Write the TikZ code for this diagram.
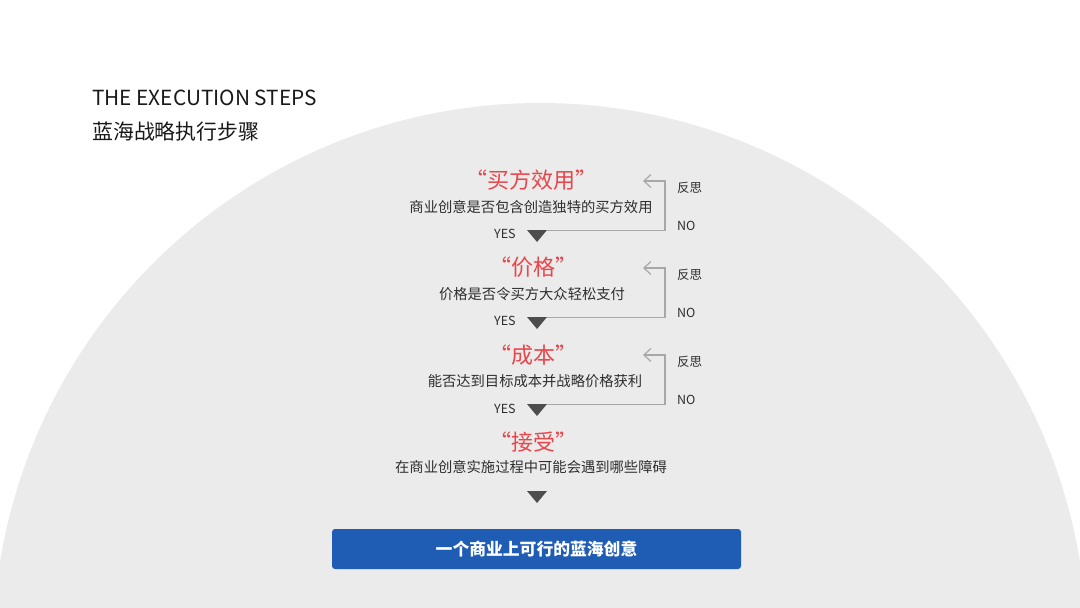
\documentclass[tikz,border=0pt]{standalone}
\usepackage{fontspec}
\setmainfont{Noto Sans CJK SC}
\usetikzlibrary{arrows.meta}
\definecolor{bgray}{HTML}{EBEBEB}
\definecolor{tred}{HTML}{E8464B}
\definecolor{tdark}{HTML}{2E2E2E}
\definecolor{tgray}{HTML}{4D4D4D}
\definecolor{lgray}{HTML}{A8A8A8}
\definecolor{bblue}{HTML}{1F5CB4}

\begin{document}
\begin{tikzpicture}
  [x=1pt,y=-1pt,every node/.style={inner sep=0pt, text=tdark},
   title/.style={anchor=base west, font=\fontsize{20.8}{24}\selectfont, text=black!90},
   head/.style={anchor=base, font=\fontsize{22}{26}\selectfont, text=tred},
   ask/.style={anchor=base, font=\fontsize{14.3}{17}\selectfont},
   tag/.style={anchor=base west, font=\fontsize{12.5}{15}\selectfont},
   back/.style={draw=lgray, line width=1.2pt, -{Straight Barb[length=7pt,width=13pt]}}]
  \useasboundingbox (0,0) rectangle (1080,608);
  \fill [white] (0,0) rectangle (1080,608);
  \begin{scope}
    \clip (0,0) rectangle (1080,608);
    \fill [bgray] (540,650) circle [radius=547pt];
  \end{scope}

  \node [title] (ten) at (92,105) {THE EXECUTION STEPS};
  \node [title, font=\fontsize{20.9}{24}\selectfont] (tcn) at (92,139) {蓝海战略执行步骤};

  \node [head] (H1) at (531,188) {“买方效用”};
  \node [ask] (Q1) at (531,212) {商业创意是否包含创造独特的买方效用};
  \node [tag] (Y1) at (494,238) {YES};
  \node [tag] (R1) at (677,192) {反思};
  \node [tag] (N1) at (677,230) {NO};

  \node [head] (H2) at (533,275.5) {“价格”};
  \node [ask] (Q2) at (532,299) {价格是否令买方大众轻松支付};
  \node [tag] (Y2) at (494,325.5) {YES};
  \node [tag] (R2) at (677,279) {反思};
  \node [tag] (N2) at (677,317) {NO};

  \node [head] (H3) at (533,363) {“成本”};
  \node [ask] (Q3) at (535,386) {能否达到目标成本并战略价格获利};
  \node [tag] (Y3) at (494,413) {YES};
  \node [tag] (R3) at (677,366) {反思};
  \node [tag] (N3) at (677,404) {NO};

  \node [head] (H4) at (533,450.5) {“接受”};
  \node [ask] (Q4) at (531,472) {在商业创意实施过程中可能会遇到哪些障碍};

  \node [fill=bblue, rounded corners=3pt, minimum width=409pt, minimum height=40pt,
         text=white, font=\fontsize{16.8}{20}\selectfont\bfseries] (goal) at (536.5,549) {一个商业上可行的蓝海创意};

  % down arrows
  \fill [tgray] (527,230) -- (547,230) -- (537,242) -- cycle;
  \fill [tgray] (527,317) -- (547,317) -- (537,329) -- cycle;
  \fill [tgray] (527,404) -- (547,404) -- (537,416) -- cycle;
  \fill [tgray] (527,491) -- (547,491) -- (537,503) -- cycle;

  % way back
  \coordinate (s1) at (547,230.5);
  \coordinate (e1) at (643,181);
  \coordinate (s2) at (547,317.5);
  \coordinate (e2) at (643,268);
  \coordinate (s3) at (547,404.5);
  \coordinate (e3) at (643,355);
  \draw [back] (s1) -| ([xshift=22pt]e1) -- (e1);
  \draw [back] (s2) -| ([xshift=22pt]e2) -- (e2);
  \draw [back] (s3) -| ([xshift=22pt]e3) -- (e3);
\end{tikzpicture}
\end{document}
